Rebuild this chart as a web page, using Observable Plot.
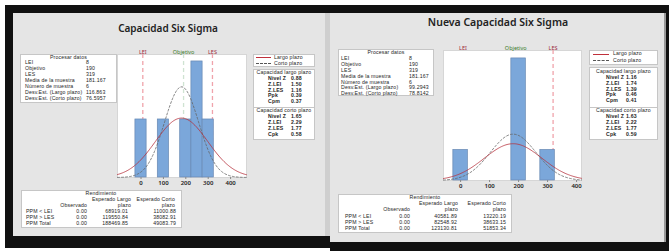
<!DOCTYPE html>
<html><head><meta charset="utf-8">
<script src="https://cdn.jsdelivr.net/npm/d3@7"></script>
<script src="https://cdn.jsdelivr.net/npm/@observablehq/plot@0.6"></script>
<style>
body{margin:0;background:#fff;width:669px;height:251px;overflow:hidden;}
#root{position:absolute;left:0;top:0;width:669px;height:251px;font-family:"Liberation Sans",Arial,sans-serif;}
.blk{position:absolute;}
.box{position:absolute;background:#fff;border:1px solid #c6c6c6;box-sizing:border-box;}
.t{position:absolute;white-space:nowrap;color:#1e1e1e;letter-spacing:0.15px;}
.ttl{font-family:"Noto Sans","Open Sans",sans-serif;letter-spacing:0;}
.ch{position:absolute;}
</style></head><body>
<div id="root"></div>
<script>
// ---------- data ----------
const binWidth = 50;
const leftBinCenters = [0, 100, 200, 250, 300];
const leftCounts = [1, 1, 1, 2, 1];
const rightBinCenters = [0, 200, 300];
const rightCounts = [1, 4, 1];
const specNames = ["LEI", "Objetivo", "LES"];
const specValues = [8, 190, 319];
const xTicks = [0, 100, 200, 300, 400];

const leftTitle = "Capacidad Six Sigma";
const rightTitle = "Nueva Capacidad Six Sigma";

const procHeader = "Procesar datos";
const procLabels = ["LEI", "Objetivo", "LES", "Media de la muestra", "Número de muestra", "Desv.Est. (Largo plazo)", "Desv.Est. (Corto plazo)"];
const leftProcValues = ["8", "190", "319", "181.167", "6", "116.863", "76.5957"];
const rightProcValues = ["8", "190", "319", "181.167", "6", "99.2943", "78.8142"];
const leftMean = 181.167, leftSdLong = 116.863, leftSdShort = 76.5957;
const rightMean = 181.167, rightSdLong = 99.2943, rightSdShort = 78.8142;

const legendLabels = ["Largo plazo", "Corto plazo"];
const capLongHeader = "Capacidad largo plazo";
const capShortHeader = "Capacidad corto plazo";
const capLongLabels = ["Nivel Z", "Z.LEI", "Z.LES", "Ppk", "Cpm"];
const leftCapLong = ["0.88", "1.50", "1.16", "0.39", "0.37"];
const rightCapLong = ["1.16", "1.74", "1.39", "0.46", "0.41"];
const capShortLabels = ["Nivel Z", "Z.LEI", "Z.LES", "Cpk"];
const leftCapShort = ["1.65", "2.29", "1.77", "0.58"];
const rightCapShort = ["1.63", "2.22", "1.77", "0.59"];

const yieldHeader = "Rendimiento";
const yieldCols = ["Observado", "Esperado Largo", "plazo", "Esperado Corto", "plazo"];
const yieldRows = ["PPM < LEI", "PPM > LES", "PPM Total"];
const leftObs = ["0.00", "0.00", "0.00"];
const leftExpLong = ["68919.01", "119550.84", "188469.85"];
const leftExpShort = ["11000.88", "38082.91", "49083.79"];
const rightObs = ["0.00", "0.00", "0.00"];
const rightExpLong = ["40581.89", "82548.92", "123130.81"];
const rightExpShort = ["13220.19", "38633.15", "51853.34"];

// ---------- helpers ----------
const root = document.getElementById("root");
const W = 669;
function rect(cls, x, y, w, h, bg) {
  const d = document.createElement("div");
  d.className = cls;
  Object.assign(d.style, {left: x + "px", top: y + "px", width: w + "px", height: h + "px"});
  if (bg) d.style.background = bg;
  root.appendChild(d);
  return d;
}
function txt(x, y, s, o = {}) {
  const d = document.createElement("div");
  d.className = "t" + (o.cls ? " " + o.cls : "");
  d.textContent = s;
  const fs = o.size || 5.2;
  d.style.fontSize = fs + "px";
  d.style.lineHeight = fs + "px";
  d.style.top = (y - fs / 2) + "px";
  if (o.weight) d.style.fontWeight = o.weight;
  if (o.color) d.style.color = o.color;
  if (o.align === "right") d.style.right = (W - x) + "px";
  else if (o.align === "center") { d.style.left = x + "px"; d.style.transform = "translateX(-50%)"; }
  else d.style.left = x + "px";
  root.appendChild(d);
}

// ---------- frames ----------
rect("blk", 5, 5, 664, 8, "#111");
rect("blk", 5, 5, 325, 243, "#111");
rect("blk", 330, 5, 339, 246, "#111");
rect("blk", 13, 13, 312, 223, "#e5e5e5");
rect("blk", 325, 13, 5, 223, "#cfcfcf");
rect("blk", 330, 13, 334, 229, "#e5e5e5");
rect("blk", 664, 13, 2, 229, "#9a9a9a");

// ---------- charts ----------
function chart(cfg) {
  const bins = cfg.centers.map((c, i) => ({x1: c - binWidth / 2, x2: c + binWidth / 2, n: cfg.counts[i]}));
  const N = d3.sum(cfg.counts);
  const [a, b] = cfg.xDomain;
  const curve = sd => d3.range(0, 151).map(i => {
    const x = a + (b - a) * i / 150;
    return {x, y: N * binWidth * Math.exp(-0.5 * ((x - cfg.mean) / sd) ** 2) / (sd * Math.sqrt(2 * Math.PI))};
  });
  const specs = specNames.map((n, i) => ({name: n, v: specValues[i]}));
  const ruleMarks = specs.filter(s => cfg.rules.includes(s.name)).map(s =>
    Plot.ruleX([s.v], {stroke: s.name === "Objetivo" ? "#cfe3d2" : "#f0a3ab", strokeWidth: 1.3, strokeDasharray: "4,3"}));
  const labelMarks = specs.map(s =>
    Plot.text([s], {x: "v", text: "name", frameAnchor: "top", dy: cfg.labelDy, fontSize: 5.5,
      fill: s.name === "Objetivo" ? "#3d7d2e" : "#9c2a3a"}));
  const p = Plot.plot({
    width: cfg.w, height: cfg.h,
    marginLeft: cfg.ml, marginRight: cfg.mr, marginTop: cfg.mt, marginBottom: cfg.mb,
    x: {domain: cfg.xDomain},
    y: {domain: cfg.yDomain, axis: null},
    style: {background: "transparent", fontFamily: "Noto Sans, sans-serif", overflow: "visible", color: "#222"},
    marks: [
      Plot.frame({fill: "white", stroke: "#d6d6d6"}),
      ...ruleMarks,
      Plot.rectY(bins, {x1: "x1", x2: "x2", y: "n", fill: "#7ba7da", stroke: "#6788b3", strokeWidth: 0.7}),
      Plot.line(curve(cfg.sdShort), {x: "x", y: "y", stroke: "#666", strokeWidth: 0.8, strokeDasharray: "2,2"}),
      Plot.line(curve(cfg.sdLong), {x: "x", y: "y", stroke: "#b5303b", strokeWidth: 0.8}),
      ...labelMarks,
      Plot.axisX({ticks: xTicks, tickSize: 2, tickPadding: 1, fontSize: 6, fontWeight: 600, stroke: "#888"})
    ]
  });
  const wrap = document.createElement("div");
  wrap.className = "ch";
  wrap.style.left = cfg.left + "px";
  wrap.style.top = cfg.top + "px";
  wrap.appendChild(p);
  root.appendChild(wrap);
}

chart({left: 107, top: 40, w: 150, h: 150, ml: 10, mr: 11, mt: 14, mb: 13,
  xDomain: [-105, 471], yDomain: [0, 2.12], centers: leftBinCenters, counts: leftCounts,
  mean: leftMean, sdLong: leftSdLong, sdShort: leftSdShort, rules: ["LEI", "Objetivo", "LES"], labelDy: -4});
chart({left: 433, top: 36, w: 160, h: 160, ml: 10, mr: 12, mt: 14, mb: 16,
  xDomain: [-59, 417], yDomain: [0, 4.26], centers: rightBinCenters, counts: rightCounts,
  mean: rightMean, sdLong: rightSdLong, sdShort: rightSdShort, rules: ["LES"], labelDy: -4});

// ---------- panels ----------
function panel(c) {
  txt(c.title.x, c.title.y, c.title.s, {align: "center", size: c.title.size, weight: 600, color: "#222", cls: "ttl"});
  // process data
  rect("box", c.proc.x, c.proc.y, c.proc.w, c.proc.h);
  txt(c.proc.x + c.proc.w / 2, c.proc.y + 3.5, procHeader, {align: "center"});
  procLabels.forEach((l, i) => {
    const y = c.proc.r0 + i * c.proc.step;
    txt(c.proc.lx, y, l);
    txt(c.proc.vx, y, c.procValues[i]);
  });
  // legend
  rect("box", c.leg.x, c.leg.y, c.leg.w, c.leg.h);
  rect("blk", c.leg.lx, c.leg.y1, c.leg.lw, 1.2, "#c0303b");
  const l2 = rect("blk", c.leg.lx, c.leg.y2, c.leg.lw, 0, null);
  l2.style.borderTop = "1px dashed #555";
  txt(c.leg.tx, c.leg.y1 + 0.5, legendLabels[0]);
  txt(c.leg.tx, c.leg.y2 + 0.5, legendLabels[1]);
  // capability
  rect("box", c.cap.x, c.cap.y, c.cap.w, c.cap.h);
  txt(c.cap.x + c.cap.w / 2, c.cap.h1, capLongHeader, {align: "center"});
  capLongLabels.forEach((l, i) => {
    const y = c.cap.r1 + i * c.cap.step1;
    txt(c.cap.lx, y, l, {weight: 700});
    txt(c.cap.vx, y, c.capLong[i], {weight: 700});
  });
  rect("blk", c.cap.x, c.cap.sep, c.cap.w, 1, "#c6c6c6");
  txt(c.cap.x + c.cap.w / 2, c.cap.h2, capShortHeader, {align: "center"});
  capShortLabels.forEach((l, i) => {
    const y = c.cap.r2 + i * c.cap.step2;
    txt(c.cap.lx, y, l, {weight: 700});
    txt(c.cap.vx, y, c.capShort[i], {weight: 700});
  });
  // yield
  const y = c.yld;
  rect("box", y.x, y.y, y.w, y.h);
  txt(y.hx, y.hy, yieldHeader, {align: "center"});
  txt(y.c1, y.sub, yieldCols[0], {align: "right"});
  txt(y.c2h, y.top, yieldCols[1], {align: "right"});
  txt(y.c2h, y.sub, yieldCols[2], {align: "right"});
  txt(y.c3h, y.top, yieldCols[3], {align: "right"});
  txt(y.c3h, y.sub, yieldCols[4], {align: "right"});
  yieldRows.forEach((r, i) => {
    const yy = y.r0 + i * y.step;
    txt(y.lx, yy, r);
    txt(y.c1, yy, c.obs[i], {align: "right"});
    txt(y.c2, yy, c.expLong[i], {align: "right"});
    txt(y.c3, yy, c.expShort[i], {align: "right"});
  });
}

panel({
  title: {x: 168, y: 28, s: leftTitle, size: 10},
  proc: {x: 20, y: 54, w: 97, h: 49, r0: 62.5, step: 6, lx: 25, vx: 86},
  procValues: leftProcValues,
  leg: {x: 253, y: 54, w: 62, h: 13, lx: 256, lw: 15, y1: 57, y2: 63, tx: 274},
  cap: {x: 253, y: 69, w: 62, h: 71, h1: 73, r1: 78.5, step1: 5.8, sep: 106.5, h2: 111, r2: 117, step2: 6, lx: 268, vx: 291},
  capLong: leftCapLong, capShort: leftCapShort,
  yld: {x: 21, y: 190, w: 161, h: 38, hx: 101, hy: 193.5, top: 200, sub: 206, lx: 26, r0: 211.5, step: 6,
    c1: 87, c2: 128, c3: 176, c2h: 131, c3h: 175},
  obs: leftObs, expLong: leftExpLong, expShort: leftExpShort
});

panel({
  title: {x: 498, y: 22, s: rightTitle, size: 10.5},
  proc: {x: 338, y: 49, w: 96, h: 47, r0: 59, step: 5.8, lx: 341, vx: 409},
  procValues: rightProcValues,
  leg: {x: 589, y: 50, w: 69, h: 15, lx: 593, lw: 16, y1: 53.5, y2: 60, tx: 613},
  cap: {x: 589, y: 67, w: 69, h: 73, h1: 72, r1: 77.5, step1: 5.8, sep: 107, h2: 111, r2: 117, step2: 6, lx: 606, vx: 626},
  capLong: rightCapLong, capShort: rightCapShort,
  yld: {x: 338, y: 194, w: 174, h: 39, hx: 425, hy: 198, top: 204, sub: 210, lx: 345, r0: 216.5, step: 6,
    c1: 410, c2: 457, c3: 506, c2h: 458, c3h: 506},
  obs: rightObs, expLong: rightExpLong, expShort: rightExpShort
});
</script>
</body></html>
